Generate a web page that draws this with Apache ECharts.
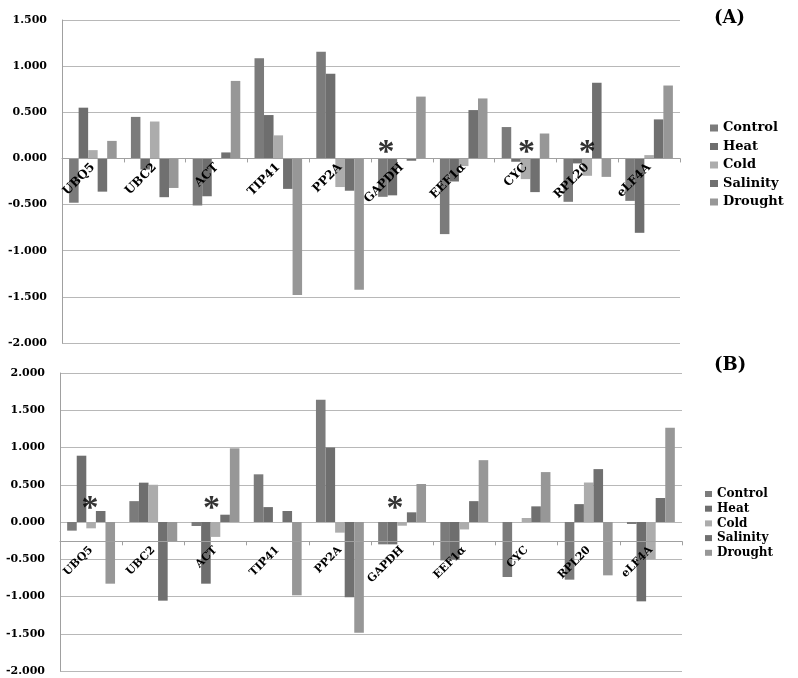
<!DOCTYPE html>
<html>
<head>
<meta charset="utf-8">
<script src="https://cdn.jsdelivr.net/npm/echarts@6/dist/echarts.min.js"></script>
<style>html,body{margin:0;padding:0;background:#fff;}#c{width:798px;height:678px;}</style>
</head>
<body>
<div id="c"></div>
<script>
const categories = ['UBQ5','UBC2','ACT','TIP41','PP2A','GAPDH','EEF1α','CYC','RPL20','eLF4A'];
const seriesNames = ['Control','Heat','Cold','Salinity','Drought'];
const yTicksA = [-2, -1.5, -1, -0.5, 0, 0.5, 1, 1.5];
const yTicksB = [-2, -1.5, -1, -0.5, 0, 0.5, 1, 1.5, 2];

const controlA  = [-0.48, 0.45, -0.51, 1.085, 1.157, -0.416, -0.82, 0.34, -0.47, -0.46];
const heatA     = [0.55, -0.12, -0.41, 0.47, 0.918, -0.40, -0.25, -0.036, -0.054, -0.806];
const coldA     = [0.09, 0.40, 0.0, 0.25, -0.31, 0.0, -0.083, -0.224, -0.188, 0.036];
const salinityA = [-0.36, -0.42, 0.065, -0.33, -0.35, -0.025, 0.524, -0.365, 0.82, 0.423];
const droughtA  = [0.19, -0.32, 0.84, -1.48, -1.424, 0.67, 0.65, 0.27, -0.2, 0.79];

const controlB  = [-0.116, 0.28, -0.054, 0.64, 1.642, -0.30, -0.515, -0.738, -0.774, -0.027];
const heatB     = [0.89, 0.528, -0.828, 0.2, 1.0, -0.30, -0.505, 0.0, 0.24, -1.065];
const coldB     = [-0.085, 0.50, -0.2, 0.0, -0.143, -0.05, -0.1, 0.054, 0.53, -0.5];
const salinityB = [0.148, -1.056, 0.098, 0.148, -1.01, 0.13, 0.28, 0.21, 0.71, 0.322];
const droughtB  = [-0.828, -0.26, 0.989, -0.984, -1.485, 0.51, 0.83, 0.67, -0.716, 1.266];

const asteriskA = [['GAPDH', 0.055], ['CYC', 0.055], ['RPL20', 0.055]];
const asteriskB = [['UBQ5', 0.17], ['ACT', 0.17], ['GAPDH', 0.17]];

// styling (not data)
const asteriskOffsetA = [-16, 1, 0];
const asteriskOffsetB = [-1, -4, -7];
const colors = ['#7b7b7b', '#6e6e6e', '#acacac', '#707070', '#979797'];
const FONT = 'DejaVu Serif';
const gridA = { left: 62, right: 118, top: 20, height: 323 };
const gridB = { left: 60, right: 116, top: 373, height: 298 };

const valuesA = [controlA, heatA, coldA, salinityA, droughtA];
const valuesB = [controlB, heatB, coldB, salinityB, droughtB];

function yAxis(idx, ticks) {
  return {
    type: 'value', gridIndex: idx, min: ticks[0], max: ticks[ticks.length - 1], interval: 0.5,
    axisLine: { show: true, lineStyle: { color: '#a0a0a0', width: 1 } },
    axisTick: { show: false },
    splitLine: { lineStyle: { color: '#b8b8b8', width: 1 } },
    axisLabel: { formatter: v => v.toFixed(3), fontFamily: FONT, fontWeight: 'bold', fontSize: 11, color: '#000', margin: 15 }
  };
}
function xAxis(idx, fs) {
  return {
    type: 'category', gridIndex: idx, data: categories, position: 'bottom', offset: 0, z: 10,
    axisLine: { onZero: false, lineStyle: { color: '#a0a0a0', width: 1 } },
    axisTick: { show: true, length: 4, lineStyle: { color: '#a0a0a0' } },
    axisLabel: { rotate: 45, interval: 0, fontFamily: FONT, fontWeight: 'bold', fontSize: fs, color: '#000', margin: 7 },
    splitLine: { show: false }
  };
}
const series = [];
[valuesA, valuesB].forEach((vals, g) => {
  vals.forEach((arr, i) => {
    series.push({
      type: 'bar', name: seriesNames[i], xAxisIndex: g, yAxisIndex: g,
      data: arr, barGap: '0%', barCategoryGap: '23%',
      itemStyle: { color: colors[i] }, emphasis: { disabled: true }
    });
  });
});
function asteriskSeries(g, pts, offs) {
  return {
    type: 'scatter', xAxisIndex: g, yAxisIndex: g, symbolSize: 0, z: 12,
    itemStyle: { color: 'rgba(0,0,0,0)' },
    data: pts.map((p, i) => ({ value: p, label: { offset: [offs[i], 0] } })),
    label: { show: true, position: 'inside', formatter: '*', fontFamily: 'Liberation Serif', fontWeight: 'bold', fontSize: 34, color: '#000' },
    silent: true
  };
}
series.push(asteriskSeries(0, asteriskA, asteriskOffsetA));
series.push(asteriskSeries(1, asteriskB, asteriskOffsetB));

const chart = echarts.init(document.getElementById('c'), null, { renderer: 'canvas' });
chart.setOption({
  animation: false,
  backgroundColor: '#fff',
  title: [
    { text: '(A)', left: 709, top: 4, textStyle: { fontFamily: FONT, fontWeight: 'bold', fontSize: 18, color: '#000' } },
    { text: '(B)', left: 709, top: 351, textStyle: { fontFamily: FONT, fontWeight: 'bold', fontSize: 18, color: '#000' } }
  ],
  legend: [
    { data: seriesNames, orient: 'vertical', left: 710, top: 121, itemWidth: 8, itemHeight: 7, itemGap: 4.5, icon: 'rect', padding: 0,
      textStyle: { fontFamily: FONT, fontWeight: 'bold', fontSize: 13, lineHeight: 14, color: '#000' }, selectedMode: false },
    { data: seriesNames, orient: 'vertical', left: 705, top: 488, itemWidth: 7, itemHeight: 6, itemGap: 2.7, icon: 'rect', padding: 0,
      textStyle: { fontFamily: FONT, fontWeight: 'bold', fontSize: 12, lineHeight: 12, color: '#000' }, selectedMode: false }
  ],
  grid: [gridA, gridB],
  xAxis: [xAxis(0, 12), xAxis(1, 11)],
  yAxis: [yAxis(0, yTicksA), yAxis(1, yTicksB)],
  series: series
});
// move each category axis (line, ticks, labels) onto the value axis zero line
const zeroA = chart.convertToPixel({ yAxisIndex: 0 }, 0);
const zeroB = chart.convertToPixel({ yAxisIndex: 1 }, 0);
const bottomA = chart.convertToPixel({ yAxisIndex: 0 }, yTicksA[0]);
const bottomB = chart.convertToPixel({ yAxisIndex: 1 }, yTicksB[0]);
chart.setOption({ xAxis: [{ offset: zeroA - bottomA }, { offset: zeroB - bottomB }] });
</script>
</body>
</html>
